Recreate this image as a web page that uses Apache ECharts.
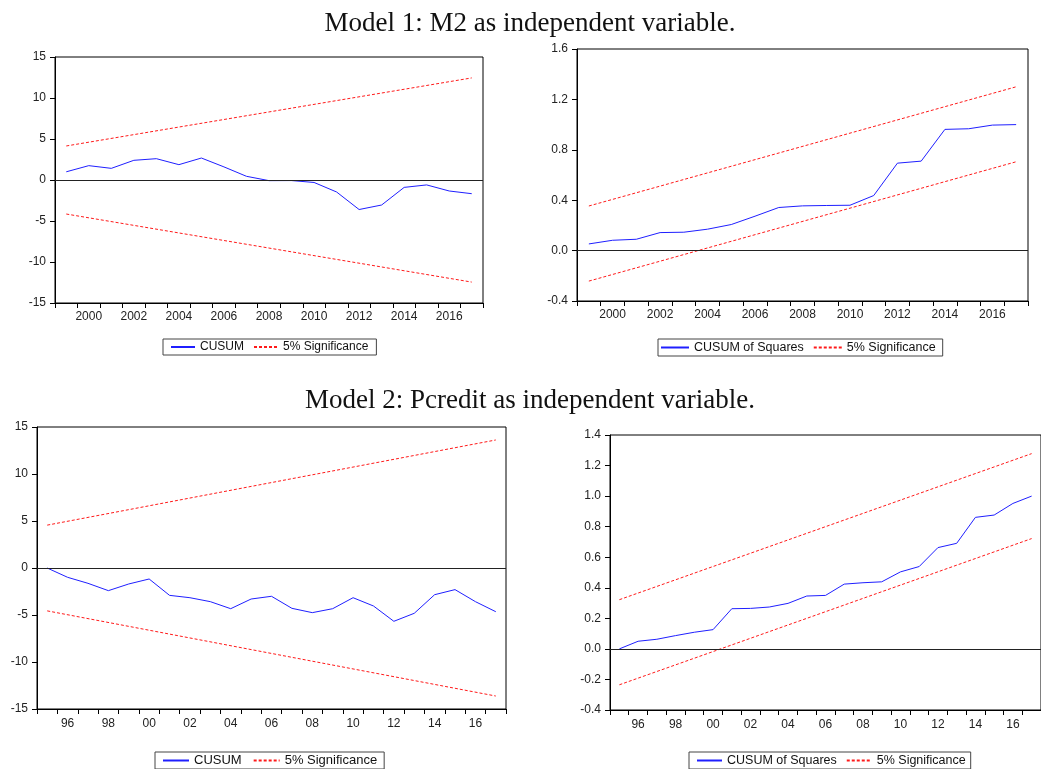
<!DOCTYPE html>
<html>
<head>
<meta charset="utf-8">
<script src="https://cdn.jsdelivr.net/npm/echarts@6/dist/echarts.min.js"></script>
<style>
html,body{margin:0;padding:0;background:#fff;}
#c{width:1041px;height:769px;}
</style>
</head>
<body>
<div id="c"></div>
<script>
// ---------- data ----------
const title1 = 'Model 1: M2 as independent variable.';
const title2 = 'Model 2: Pcredit as independent variable.';

const years1 = ['1999','2000','2001','2002','2003','2004','2005','2006','2007','2008',
                '2009','2010','2011','2012','2013','2014','2015','2016','2017'];
const cusum1 = [1.0, 1.75, 1.42, 2.4, 2.6, 1.87, 2.68, 1.6, 0.45, -0.08,
                -0.07, -0.3, -1.46, -3.6, -3.05, -0.9, -0.6, -1.34, -1.67];
const cusum1Upper = [4.15, 12.45];   // values at first and last year
const cusum1Lower = [-4.15, -12.45];

const cusumsq1 = [0.053, 0.082, 0.09, 0.143, 0.146, 0.17, 0.207, 0.273, 0.342, 0.355,
                  0.358, 0.36, 0.437, 0.694, 0.71, 0.962, 0.967, 0.996, 1.0];
const cusumsq1Upper = [0.354, 1.30];
const cusumsq1Lower = [-0.242, 0.705];

const years2 = ['1995','1996','1997','1998','1999','2000','2001','2002','2003','2004',
                '2005','2006','2007','2008','2009','2010','2011','2012','2013','2014',
                '2015','2016','2017'];
const cusum2 = [0, -0.99, -1.63, -2.41, -1.70, -1.17, -2.91, -3.16, -3.58, -4.33,
                -3.30, -3.01, -4.29, -4.75, -4.33, -3.16, -4.04, -5.67, -4.82, -2.84,
                -2.30, -3.58, -4.65];
const cusum2Upper = [4.56, 13.62];
const cusum2Lower = [-4.56, -13.62];

const cusumsq2 = [0, 0.05, 0.063, 0.087, 0.109, 0.126, 0.263, 0.265, 0.274, 0.298,
                  0.346, 0.35, 0.424, 0.433, 0.439, 0.504, 0.539, 0.663, 0.691, 0.861,
                  0.876, 0.952, 1.0];
const cusumsq2Upper = [0.322, 1.278];
const cusumsq2Lower = [-0.235, 0.722];

// ---------- helpers ----------
const FONT = '"Liberation Sans", Arial, sans-serif';
const BLUE = '#1f1fff';
const RED = '#ff1a1a';

function ends(years, pair) {
  return [[years[0], pair[0]], [years[years.length - 1], pair[1]]];
}

function xAxisFor(idx, years, twoDigit, margin) {
  return {
    type: 'category', gridIndex: idx, data: years, boundaryGap: true,
    axisLine: { show: true, onZero: false, lineStyle: { color: '#000', width: 1 } },
    axisTick: { show: true, interval: 0, length: 5, inside: false, lineStyle: { color: '#000' } },
    axisLabel: {
      interval: function (i) { return i % 2 === 1; },
      formatter: function (v) { return twoDigit ? v.slice(2) : v; },
      color: '#222', fontFamily: FONT, fontSize: 12, margin: margin
    },
    splitLine: { show: false }
  };
}

function yAxisFor(idx, min, max, interval, decimals) {
  return {
    type: 'value', gridIndex: idx, min: min, max: max, interval: interval,
    axisLine: { show: true, onZero: false, lineStyle: { color: '#000', width: 1 } },
    axisTick: { show: true, length: 5, inside: false, lineStyle: { color: '#000' } },
    axisLabel: {
      color: '#222', fontFamily: FONT, fontSize: 12, margin: 9,
      formatter: function (v) {
        if (Math.abs(v) < 1e-9) v = 0;
        return decimals ? v.toFixed(decimals) : String(Math.round(v));
      }
    },
    splitLine: { show: false }
  };
}

function mainSeries(idx, name, data) {
  return {
    type: 'line', name: name, xAxisIndex: idx, yAxisIndex: idx, data: data,
    symbol: 'none', silent: true, z: 3,
    lineStyle: { color: BLUE, width: 1 }, itemStyle: { color: BLUE },
    markLine: {
      silent: true, symbol: ['none', 'none'], label: { show: false },
      lineStyle: { color: '#222', type: 'solid', width: 1 },
      data: [{ yAxis: 0 }], animation: false
    }
  };
}

function boundSeries(idx, years, pair) {
  return {
    type: 'line', name: '5% Significance', xAxisIndex: idx, yAxisIndex: idx,
    data: ends(years, pair), symbol: 'none', silent: true, z: 2,
    lineStyle: { color: RED, width: 1, type: [3, 2] }, itemStyle: { color: RED }
  };
}

function legendFor(left, top, names, opts) {
  return {
    left: left, top: top, orient: 'horizontal',
    data: names, selectedMode: false,
    itemWidth: opts.iw, itemHeight: 14, itemGap: opts.gap,
    padding: opts.pad,
    borderColor: '#444', borderWidth: 1,
    itemStyle: { opacity: 0, borderWidth: 0 },
    textStyle: { fontFamily: FONT, fontSize: opts.fs, color: '#111' }
  };
}

// ---------- chart ----------
const chart = echarts.init(document.getElementById('c'), null, { renderer: 'canvas' });

const option = {
  animation: false,
  backgroundColor: '#fff',
  graphic: [
    { type: 'text', x: 530, y: 24, silent: true,
      style: { text: title1, x: 0, y: 0, align: 'center', verticalAlign: 'middle',
               font: '27px "Liberation Serif", "Times New Roman", serif', fill: '#111' } },
    { type: 'text', x: 530, y: 401, silent: true,
      style: { text: title2, x: 0, y: 0, align: 'center', verticalAlign: 'middle',
               font: '27px "Liberation Serif", "Times New Roman", serif', fill: '#111' } }
  ],
  grid: [
    { left: 55, top: 57, width: 428, height: 246, show: true, borderColor: '#000', borderWidth: 1, containLabel: false },
    { left: 577, top: 49, width: 451, height: 252, show: true, borderColor: '#000', borderWidth: 1, containLabel: false },
    { left: 37, top: 427, width: 469, height: 282, show: true, borderColor: '#000', borderWidth: 1, containLabel: false },
    { left: 610, top: 435, width: 439, height: 275, show: true, borderColor: '#000', borderWidth: 1, containLabel: false }
  ],
  xAxis: [
    xAxisFor(0, years1, false, 8),
    xAxisFor(1, years1, false, 8),
    xAxisFor(2, years2, true, 9),
    xAxisFor(3, years2, true, 9)
  ],
  yAxis: [
    yAxisFor(0, -15, 15, 5, 0),
    yAxisFor(1, -0.4, 1.6, 0.4, 1),
    yAxisFor(2, -15, 15, 5, 0),
    yAxisFor(3, -0.4, 1.4, 0.2, 1)
  ],
  legend: [
    legendFor(163, 339, ['CUSUM', '5% Significance'], { iw: 24, gap: 9, fs: 12, pad: [2, 8, 2, 7] }),
    legendFor(658, 339, ['CUSUM of Squares', '5% Significance'], { iw: 28, gap: 9, fs: 12.5, pad: [2, 7, 2, 2] }),
    legendFor(155, 752, ['CUSUM', '5% Significance'], { iw: 26, gap: 11, fs: 13, pad: [2, 7, 2, 7] }),
    legendFor(689, 752, ['CUSUM of Squares', '5% Significance'], { iw: 25, gap: 9, fs: 12.5, pad: [2, 5, 2, 7] })
  ],
  series: [
    mainSeries(0, 'CUSUM', cusum1),
    boundSeries(0, years1, cusum1Upper),
    boundSeries(0, years1, cusum1Lower),
    mainSeries(1, 'CUSUM of Squares', cusumsq1),
    boundSeries(1, years1, cusumsq1Upper),
    boundSeries(1, years1, cusumsq1Lower),
    mainSeries(2, 'CUSUM', cusum2),
    boundSeries(2, years2, cusum2Upper),
    boundSeries(2, years2, cusum2Lower),
    mainSeries(3, 'CUSUM of Squares', cusumsq2),
    boundSeries(3, years2, cusumsq2Upper),
    boundSeries(3, years2, cusumsq2Lower)
  ]
};

chart.setOption(option);
</script>
</body>
</html>
